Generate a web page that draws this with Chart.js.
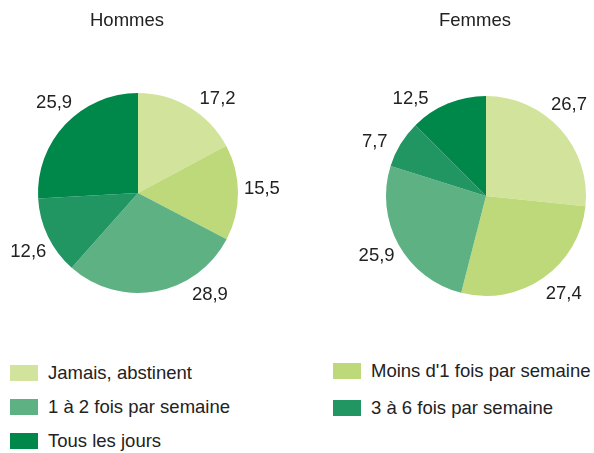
<!DOCTYPE html>
<html>
<head>
<meta charset="utf-8">
<script src="https://cdn.jsdelivr.net/npm/chart.js@4"></script>
<style>
  html, body { margin: 0; padding: 0; background: #fff; }
  body { width: 594px; height: 453px; position: relative; overflow: hidden;
         font-family: 'Liberation Sans', Arial, sans-serif; color: #222; }
  canvas { position: absolute; top: 0; }
  #cHommes { left: 0; }
  #cFemmes { left: 297px; }
  .leg { position: absolute; font-size: 18.5px; line-height: 18px; white-space: nowrap; }
  .leg span { position: absolute; left: 0; top: 0; width: 28px; height: 16px; }
  .leg b { font-weight: normal; position: absolute; left: 38px; top: -1px; }
</style>
</head>
<body>
<canvas id="cHommes" width="297" height="340"></canvas>
<canvas id="cFemmes" width="297" height="340"></canvas>
<div id="legend"></div>
<script>
const categories = ['Jamais, abstinent', "Moins d'1 fois par semaine", '1 à 2 fois par semaine', '3 à 6 fois par semaine', 'Tous les jours'];
const hommes = [17.2, 15.5, 28.9, 12.6, 25.9];
const femmes = [26.7, 27.4, 25.9, 7.7, 12.5];
const colors = ['#d2e39b', '#bed97a', '#5db183', '#219663', '#00884b'];

const FONT = "'Liberation Sans', Arial, sans-serif";

// ── Labels + title plugin ─────────────────────────────────────────────────
// labels sit on a ring outside the pie; `nudge` shifts a label along it (degrees)
// the way the original layout moved a few of them

const pieText = {
    id: 'pieText',
    afterDatasetsDraw(chart, args, opts) {
        const ctx   = chart.ctx;
        const arcs  = chart.getDatasetMeta(0).data;
        const vals  = chart.data.datasets[0].data;
        const nudge = opts.nudge || [];
        ctx.save();
        ctx.fillStyle    = '#222';
        ctx.font         = `18.5px ${FONT}`;
        ctx.textAlign    = 'center';
        ctx.textBaseline = 'middle';
        arcs.forEach((arc, i) => {
            const { x, y, startAngle, endAngle, outerRadius } = arc.getProps(['x', 'y', 'startAngle', 'endAngle', 'outerRadius'], true);
            const mid  = (startAngle + endAngle) / 2 + (nudge[i] || 0) * Math.PI / 180;
            const text = vals[i].toFixed(1).replace('.', ',');
            const dist = outerRadius + 24;
            ctx.fillText(text, x + Math.cos(mid) * dist, y + Math.sin(mid) * dist + 1);
        });
        const a0 = arcs[0];
        ctx.fillText(opts.title, a0.x - 11, 21);
        ctx.restore();
    },
};

function makePie(id, values, title, padding, nudge) {
    return new Chart(document.getElementById(id), {
        type: 'pie',
        data: {
            labels: categories,
            datasets: [{ data: values, backgroundColor: colors, borderWidth: 0 }],
        },
        options: {
            responsive: false,
            animation: false,
            devicePixelRatio: 1,
            layout: { padding },
            plugins: {
                legend: { display: false },
                tooltip: { enabled: false },
                pieText: { title, nudge },
            },
        },
        plugins: [pieText],
    });
}

makePie('cHommes', hommes, 'Hommes', { left: 38, right: 59, top: 93, bottom: 47 }, [9, -2, -25, -2, 4]);
makePie('cFemmes', femmes, 'Femmes', { left: 89, right: 8, top: 96, bottom: 44 }, [-6, -4, 1, -5, -15]);

// ── Legend ────────────────────────────────────────────────────────────────

const legendSlots = [
    { left: 10,  top: 365 }, { left: 333, top: 363 },
    { left: 10,  top: 399 }, { left: 333, top: 400 },
    { left: 10,  top: 433 },
];
const legend = document.getElementById('legend');
categories.forEach((cat, i) => {
    const d = document.createElement('div');
    d.className = 'leg';
    d.style.left = legendSlots[i].left + 'px';
    d.style.top  = legendSlots[i].top + 'px';
    d.innerHTML  = `<span style="background:${colors[i]}"></span><b>${cat}</b>`;
    legend.appendChild(d);
});
</script>
</body>
</html>
